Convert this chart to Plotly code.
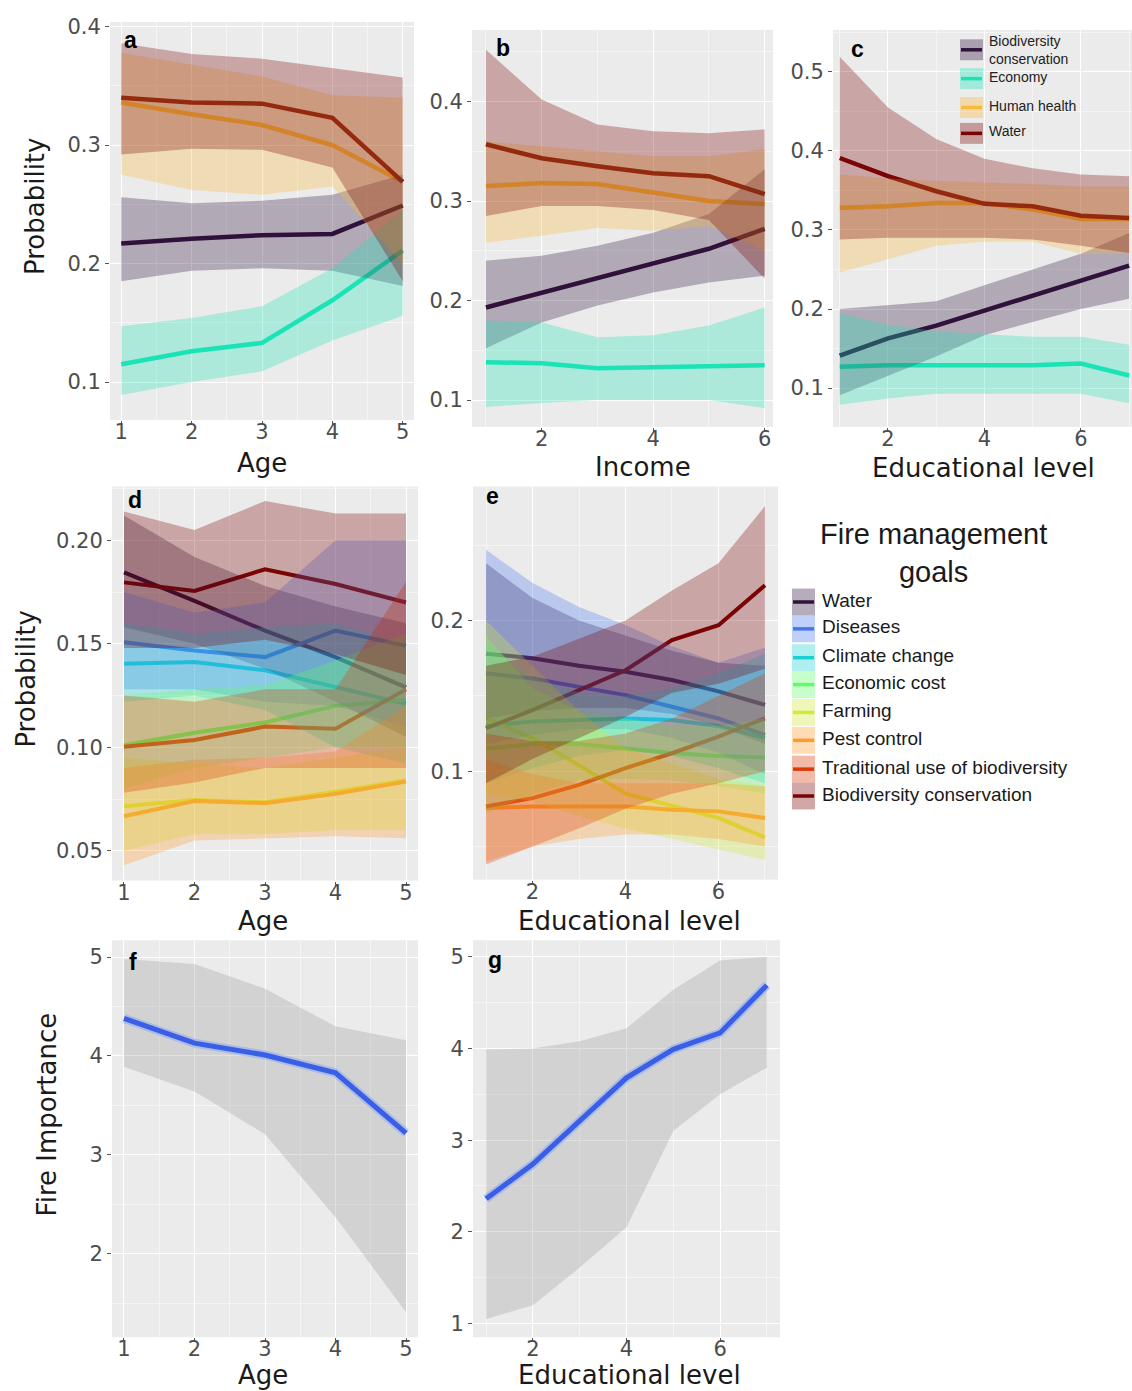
import plotly.graph_objects as go

W, H = 1132, 1391

# ---------------- data ----------------
age = [1, 2, 3, 4, 5]
income = [1, 2, 3, 4, 5, 6]
edu = [1, 2, 3, 4, 5, 6, 7]

goals4 = ["Biodiversity conservation", "Economy", "Human health", "Water"]
colors4 = ["#30123B", "#1AE4B6", "#FABA39", "#7A0403"]

goals8 = ["Water", "Diseases", "Climate change", "Economic cost", "Farming",
          "Pest control", "Traditional use of biodiversity", "Biodiversity conservation"]
colors8 = ["#30123B", "#4777EF", "#1BD0D5", "#62FC6B", "#D2E935",
           "#FE9B2D", "#DB3A07", "#7A0403"]

# panel a: probability by age
a_fit = {
    "Biodiversity conservation": [0.217, 0.221, 0.224, 0.225, 0.249],
    "Economy": [0.115, 0.126, 0.133, 0.169, 0.211],
    "Human health": [0.336, 0.326, 0.317, 0.300, 0.269],
    "Water": [0.340, 0.336, 0.335, 0.323, 0.269],
}
a_lo = {
    "Biodiversity conservation": [0.185, 0.194, 0.196, 0.194, 0.181],
    "Economy": [0.089, 0.100, 0.109, 0.135, 0.156],
    "Human health": [0.275, 0.262, 0.258, 0.265, 0.200],
    "Water": [0.292, 0.297, 0.296, 0.281, 0.185],
}
a_hi = {
    "Biodiversity conservation": [0.256, 0.251, 0.253, 0.258, 0.275],
    "Economy": [0.147, 0.154, 0.164, 0.196, 0.245],
    "Human health": [0.378, 0.368, 0.358, 0.342, 0.340],
    "Water": [0.386, 0.377, 0.373, 0.365, 0.357],
}

# panel b: probability by income
b_fit = {
    "Biodiversity conservation": [0.193, 0.208, 0.223, 0.238, 0.252, 0.272],
    "Economy": [0.138, 0.137, 0.132, 0.133, 0.135, 0.135],
    "Human health": [0.315, 0.318, 0.317, 0.308, 0.300, 0.297],
    "Water": [0.357, 0.343, 0.335, 0.328, 0.325, 0.307],
}
b_lo = {
    "Biodiversity conservation": [0.152, 0.178, 0.195, 0.208, 0.218, 0.225],
    "Economy": [0.093, 0.097, 0.100, 0.100, 0.100, 0.092],
    "Human health": [0.258, 0.265, 0.273, 0.270, 0.275, 0.250],
    "Water": [0.285, 0.295, 0.295, 0.291, 0.281, 0.222],
}
b_hi = {
    "Biodiversity conservation": [0.240, 0.245, 0.255, 0.268, 0.287, 0.332],
    "Economy": [0.180, 0.178, 0.163, 0.165, 0.175, 0.193],
    "Human health": [0.360, 0.355, 0.350, 0.345, 0.345, 0.352],
    "Water": [0.452, 0.402, 0.377, 0.370, 0.368, 0.372],
}

# panel c: probability by educational level
c_fit = {
    "Biodiversity conservation": [0.141, 0.163, 0.179, 0.198, 0.217, 0.236, 0.255],
    "Economy": [0.127, 0.129, 0.129, 0.129, 0.129, 0.131, 0.116],
    "Human health": [0.328, 0.330, 0.334, 0.334, 0.326, 0.314, 0.314],
    "Water": [0.391, 0.368, 0.349, 0.333, 0.330, 0.318, 0.315],
}
c_lo = {
    "Biodiversity conservation": [0.091, 0.115, 0.140, 0.167, 0.183, 0.200, 0.213],
    "Economy": [0.079, 0.087, 0.093, 0.093, 0.093, 0.093, 0.081],
    "Human health": [0.246, 0.263, 0.280, 0.285, 0.285, 0.270, 0.270],
    "Water": [0.288, 0.290, 0.290, 0.290, 0.288, 0.280, 0.271],
}
c_hi = {
    "Biodiversity conservation": [0.200, 0.205, 0.210, 0.230, 0.250, 0.270, 0.296],
    "Economy": [0.195, 0.180, 0.172, 0.168, 0.165, 0.165, 0.155],
    "Human health": [0.370, 0.365, 0.362, 0.360, 0.358, 0.355, 0.355],
    "Water": [0.519, 0.455, 0.415, 0.390, 0.378, 0.370, 0.368],
}

# panel d: fire management goals by age
d_fit = {
    "Water": [0.1845, 0.1708, 0.1564, 0.1436, 0.129],
    "Diseases": [0.1508, 0.1468, 0.1436, 0.1564, 0.149],
    "Climate change": [0.1404, 0.1412, 0.1372, 0.129, 0.121],
    "Economic cost": [0.101, 0.107, 0.112, 0.120, 0.123],
    "Farming": [0.0715, 0.0745, 0.0735, 0.0785, 0.0840],
    "Pest control": [0.0667, 0.0740, 0.0730, 0.0775, 0.0835],
    "Traditional use of biodiversity": [0.1003, 0.1035, 0.110, 0.109, 0.128],
    "Biodiversity conservation": [0.1797, 0.1756, 0.186, 0.1789, 0.170],
}
d_lo = {
    "Water": [0.158, 0.150, 0.138, 0.122, 0.105],
    "Diseases": [0.128, 0.128, 0.122, 0.120, 0.110],
    "Climate change": [0.122, 0.125, 0.118, 0.100, 0.092],
    "Economic cost": [0.080, 0.090, 0.095, 0.100, 0.100],
    "Farming": [0.050, 0.058, 0.058, 0.060, 0.060],
    "Pest control": [0.043, 0.055, 0.056, 0.057, 0.056],
    "Traditional use of biodiversity": [0.078, 0.083, 0.090, 0.090, 0.090],
    "Biodiversity conservation": [0.148, 0.148, 0.152, 0.145, 0.135],
}
d_hi = {
    "Water": [0.212, 0.192, 0.178, 0.168, 0.160],
    "Diseases": [0.175, 0.165, 0.170, 0.200, 0.200],
    "Climate change": [0.160, 0.155, 0.158, 0.160, 0.150],
    "Economic cost": [0.125, 0.128, 0.130, 0.142, 0.155],
    "Farming": [0.095, 0.092, 0.090, 0.095, 0.100],
    "Pest control": [0.090, 0.094, 0.095, 0.098, 0.120],
    "Traditional use of biodiversity": [0.125, 0.122, 0.128, 0.128, 0.180],
    "Biodiversity conservation": [0.214, 0.205, 0.219, 0.213, 0.213],
}

# panel e: fire management goals by educational level
e_fit = {
    "Water": [0.178, 0.175, 0.170, 0.166, 0.1605, 0.153, 0.144],
    "Diseases": [0.165, 0.1616, 0.156, 0.1505, 0.1428, 0.135, 0.124],
    "Climate change": [0.130, 0.133, 0.134, 0.135, 0.134, 0.130, 0.122],
    "Economic cost": [0.115, 0.118, 0.118, 0.115, 0.112, 0.110, 0.109],
    "Farming": [0.135, 0.122, 0.104, 0.085, 0.077, 0.069, 0.056],
    "Pest control": [0.0755, 0.0766, 0.0766, 0.0766, 0.0744, 0.0733, 0.0689],
    "Traditional use of biodiversity": [0.0766, 0.0821, 0.0909, 0.102, 0.1119, 0.123, 0.1351],
    "Biodiversity conservation": [0.1285, 0.1406, 0.1538, 0.167, 0.187, 0.1969, 0.2234],
}
e_lo = {
    "Water": [0.135, 0.140, 0.142, 0.142, 0.138, 0.130, 0.118],
    "Diseases": [0.118, 0.124, 0.128, 0.128, 0.122, 0.112, 0.098],
    "Climate change": [0.092, 0.102, 0.110, 0.114, 0.110, 0.102, 0.092],
    "Economic cost": [0.072, 0.085, 0.094, 0.095, 0.094, 0.090, 0.085],
    "Farming": [0.085, 0.080, 0.070, 0.062, 0.055, 0.048, 0.041],
    "Pest control": [0.040, 0.050, 0.055, 0.058, 0.058, 0.055, 0.050],
    "Traditional use of biodiversity": [0.038, 0.050, 0.062, 0.075, 0.085, 0.092, 0.100],
    "Biodiversity conservation": [0.092, 0.108, 0.122, 0.136, 0.152, 0.158, 0.168],
}
e_hi = {
    "Water": [0.238, 0.215, 0.200, 0.190, 0.180, 0.172, 0.170],
    "Diseases": [0.247, 0.225, 0.209, 0.197, 0.183, 0.172, 0.182],
    "Climate change": [0.185, 0.162, 0.152, 0.150, 0.155, 0.165, 0.178],
    "Economic cost": [0.190, 0.155, 0.140, 0.135, 0.130, 0.130, 0.135],
    "Farming": [0.200, 0.170, 0.140, 0.115, 0.105, 0.095, 0.090],
    "Pest control": [0.108, 0.098, 0.092, 0.092, 0.092, 0.092, 0.090],
    "Traditional use of biodiversity": [0.125, 0.120, 0.120, 0.125, 0.135, 0.150, 0.165],
    "Biodiversity conservation": [0.170, 0.176, 0.188, 0.200, 0.220, 0.238, 0.276],
}

# panels f, g: fire importance
f_fit = [4.38, 4.13, 4.01, 3.83, 3.22]
f_lo = [3.89, 3.64, 3.21, 2.37, 1.41]
f_hi = [4.98, 4.93, 4.68, 4.30, 4.16]

g_fit = [2.36, 2.74, 3.21, 3.68, 3.99, 4.17, 4.69]
g_lo = [1.05, 1.20, 1.61, 2.05, 3.10, 3.50, 3.79]
g_hi = [3.99, 4.00, 4.08, 4.22, 4.64, 4.96, 5.00]


# ---------------- helpers ----------------
def X(px):
    return px / W


def Y(py):
    return 1 - py / H


def rgba(hexc, a):
    r, g, b = int(hexc[1:3], 16), int(hexc[3:5], 16), int(hexc[5:7], 16)
    return f"rgba({r},{g},{b},{a})"


def suffix(i):
    return "" if i == 1 else str(i)


fig = go.Figure()


def add_goal_panel(i, xs, fit, lo, hi, names, cols, alpha, lw):
    xa, ya = "x" + suffix(i), "y" + suffix(i)
    # lines first, ribbons layered on top (as in the original ggplot layering)
    for n, c in zip(names, cols):
        fig.add_trace(go.Scatter(x=xs, y=fit[n], mode="lines",
                                 line=dict(color=c, width=lw),
                                 xaxis=xa, yaxis=ya, showlegend=False,
                                 hoverinfo="skip"))
    for n, c in zip(names, cols):
        fig.add_trace(go.Scatter(x=xs + xs[::-1], y=hi[n] + lo[n][::-1],
                                 mode="lines", fill="toself",
                                 fillcolor=rgba(c, alpha),
                                 line=dict(width=0, color=rgba(c, 0)),
                                 xaxis=xa, yaxis=ya, showlegend=False,
                                 hoverinfo="skip"))


def add_importance_panel(i, xs, fit, lo, hi):
    xa, ya = "x" + suffix(i), "y" + suffix(i)
    fig.add_trace(go.Scatter(x=xs + xs[::-1], y=hi + lo[::-1], mode="lines",
                             fill="toself", fillcolor="rgba(153,153,153,0.3)",
                             line=dict(width=0, color="rgba(0,0,0,0)"),
                             xaxis=xa, yaxis=ya, showlegend=False,
                             hoverinfo="skip"))
    fig.add_trace(go.Scatter(x=xs, y=fit, mode="lines",
                             line=dict(color="rgba(120,160,255,0.45)", width=9),
                             xaxis=xa, yaxis=ya, showlegend=False,
                             hoverinfo="skip"))
    fig.add_trace(go.Scatter(x=xs, y=fit, mode="lines",
                             line=dict(color="#3A5FE5", width=5),
                             xaxis=xa, yaxis=ya, showlegend=False,
                             hoverinfo="skip"))


add_goal_panel(1, age, a_fit, a_lo, a_hi, goals4, colors4, 0.3, 4.5)
add_goal_panel(2, income, b_fit, b_lo, b_hi, goals4, colors4, 0.3, 4.5)
add_goal_panel(3, edu, c_fit, c_lo, c_hi, goals4, colors4, 0.3, 4.5)
add_goal_panel(4, age, d_fit, d_lo, d_hi, goals8, colors8, 0.3, 4)
add_goal_panel(5, edu, e_fit, e_lo, e_hi, goals8, colors8, 0.3, 4)
add_importance_panel(6, age, f_fit, f_lo, f_hi)
add_importance_panel(7, edu, g_fit, g_lo, g_hi)

# ---------------- axes ----------------
TICKFONT = dict(family="DejaVu Sans", size=21, color="#4D4D4D")


def axis(domain, rng, dtick, minor, anchor, fmt=None, standoff=0):
    d = dict(domain=domain, range=rng, dtick=dtick, tick0=0,
             showgrid=True, gridcolor="white", gridwidth=1.3,
             zeroline=False, showline=False,
             ticks="outside", ticklen=4, tickwidth=1, tickcolor="#555555",
             tickfont=TICKFONT, anchor=anchor, fixedrange=True,
             ticklabelstandoff=standoff,
             minor=dict(dtick=minor, tick0=0, showgrid=True,
                        gridcolor="#F5F5F5", gridwidth=0.6, ticks=""))
    if fmt:
        d["tickformat"] = fmt
    return d


# pixel boxes of each panel: (left, right, top, bottom)
boxes = {
    1: (110, 414, 15, 415),
    2: (472, 773, 23, 422),
    3: (833, 1132, 23, 422),
    4: (112, 418, 482, 878),
    5: (473, 778, 482, 877),
    6: (112, 418, 938, 1337),
    7: (473, 780, 938, 1337),
}
xranges = {1: [0.84, 5.16], 2: [0.75, 6.15], 3: [0.86, 7.06],
           4: [0.83, 5.17], 5: [0.72, 7.28], 6: [0.83, 5.17], 7: [0.72, 7.28]}
yranges = {1: [0.068, 0.404], 2: [0.073, 0.472], 3: [0.051, 0.553],
           4: [0.0356, 0.226], 5: [0.028, 0.289], 6: [1.156, 5.17], 7: [0.85, 5.18]}
xdt = {1: (1, 0.5), 2: (2, 1), 3: (2, 1), 4: (1, 0.5), 5: (2, 1), 6: (1, 0.5), 7: (2, 1)}
ydt = {1: (0.1, 0.05, ".1f"), 2: (0.1, 0.05, ".1f"), 3: (0.1, 0.05, ".1f"),
       4: (0.05, 0.025, ".2f"), 5: (0.1, 0.05, ".1f"), 6: (1, 0.5, "d"), 7: (1, 0.5, "d")}

layout_axes = {}
for i, (l, r, t, b) in boxes.items():
    s = suffix(i)
    layout_axes["xaxis" + s] = axis([X(l), X(r)], xranges[i], xdt[i][0], xdt[i][1],
                                    "y" + s, standoff=-11)
    layout_axes["yaxis" + s] = axis([Y(b), Y(t)], yranges[i], ydt[i][0], ydt[i][1],
                                    "x" + s, ydt[i][2])

# ---------------- annotations ----------------
ann = []
TITLEFONT = dict(family="DejaVu Sans", size=26, color="#1A1A1A")


def text(px, py, s, font, angle=0, xanchor="center", yanchor="middle", align="center"):
    ann.append(dict(x=X(px), y=Y(py), xref="paper", yref="paper", text=s,
                    showarrow=False, font=font, textangle=angle,
                    xanchor=xanchor, yanchor=yanchor, align=align))


# axis titles
text(262, 458, "Age", TITLEFONT)
text(643, 462, "Income", TITLEFONT)
text(983, 463, "Educational level", TITLEFONT)
text(263, 919, "Age", TITLEFONT)
text(629, 919, "Educational level", TITLEFONT)
text(263, 1375, "Age", TITLEFONT)
text(629, 1375, "Educational level", TITLEFONT)
text(35, 201, "Probability", TITLEFONT, angle=-90)
text(26, 676, "Probability", TITLEFONT, angle=-90)
text(47, 1113, "Fire Importance", TITLEFONT, angle=-90)

# panel letters
LETTER = dict(family="Liberation Sans", size=23, color="#000000")
for lx, ly, s in [(122, 33, "a"), (494, 41, "b"), (849, 42, "c"), (126, 495, "d"),
                  (484, 491, "e"), (127, 960, "f"), (486, 958, "g")]:
    text(lx, ly, f"<b>{s}</b>", LETTER, xanchor="left")

shapes = []


def key(x0, x1, yc, h, col):
    shapes.append(dict(type="rect", xref="paper", yref="paper",
                       x0=X(x0), x1=X(x1), y0=Y(yc + h / 2), y1=Y(yc - h / 2),
                       fillcolor=rgba(col, 0.35), line=dict(width=0), layer="above"))
    shapes.append(dict(type="line", xref="paper", yref="paper",
                       x0=X(x0 + 1), x1=X(x1 - 1), y0=Y(yc), y1=Y(yc),
                       line=dict(color=col, width=3.5), layer="above"))


# legend inside panel c
small = dict(family="Liberation Sans", size=14, color="#222222")
c_keys_y = [43, 72, 101, 127]
c_labels = ["Biodiversity<br>conservation", "Economy", "Human health", "Water"]
for yc, lab, col in zip(c_keys_y, c_labels, colors4):
    key(960, 983, yc, 21, col)
    text(987, yc + (2 if "<br>" in lab else 0) - 2, lab, small, xanchor="left", align="left")

# shared legend for panels d and e
text(933, 549, "Fire management<br>goals",
     dict(family="Liberation Sans", size=29, color="#1A1A1A"))
legfont = dict(family="Liberation Sans", size=19, color="#1A1A1A")
big_keys_y = [598, 625, 654, 681, 709, 737, 766, 793]
for yc, lab, col in zip(big_keys_y, goals8, colors8):
    key(792, 815, yc, 27, col)
    text(820, yc - 2, lab, legfont, xanchor="left", align="left")

fig.update_layout(
    width=W, height=H, autosize=False,
    margin=dict(l=0, r=0, t=0, b=0),
    paper_bgcolor="white", plot_bgcolor="#EBEBEB",
    showlegend=False,
    annotations=ann, shapes=shapes,
    **layout_axes,
)

fig.write_html("out.html")
